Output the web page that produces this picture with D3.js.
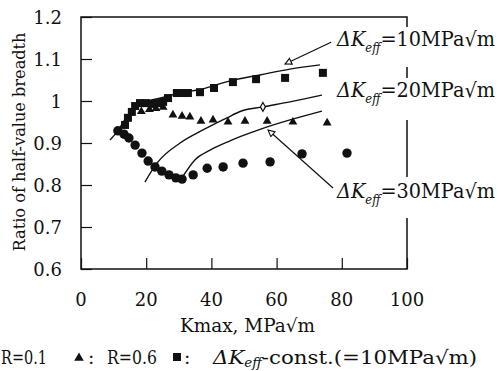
<!DOCTYPE html>
<html>
<head>
<meta charset="utf-8">
<script src="https://cdn.jsdelivr.net/npm/d3@7"></script>
<style>
  body { margin: 0; background: #fff; }
</style>
</head>
<body>
<div id="chart"></div>
<script>
// Kmax (MPa√m) vs ratio of half-value breadth
const circlesR01 = [
  [11.3, 0.929], [13.2, 0.921], [14.7, 0.912], [16.6, 0.895], [18.7, 0.876],
  [20.6, 0.857], [22.7, 0.843], [24.8, 0.833], [27.0, 0.824], [29.1, 0.817],
  [31.0, 0.814], [34.4, 0.824], [38.7, 0.840], [43.6, 0.843], [49.7, 0.852],
  [58.0, 0.855], [67.8, 0.874], [81.6, 0.876]
];
const trianglesR06 = [
  [18.5, 0.975], [21.0, 0.980], [23.0, 0.982], [25.2, 0.985], [28.2, 0.967],
  [31.0, 0.964], [33.4, 0.962], [36.8, 0.952], [40.5, 0.955], [45.1, 0.950],
  [50.3, 0.952], [57.1, 0.952], [65.0, 0.950], [75.5, 0.948]
];
const squaresConst = [
  [13.5, 0.943], [14.4, 0.960], [15.6, 0.974], [16.6, 0.988], [18.1, 0.995],
  [19.9, 0.995], [21.8, 0.993], [23.6, 0.995], [25.2, 0.998], [26.7, 1.007],
  [29.4, 1.019], [31.3, 1.019], [32.8, 1.019], [36.5, 1.021], [40.8, 1.031],
  [46.6, 1.045], [53.7, 1.052], [62.6, 1.055], [74.2, 1.067]
];
const curveDk10 = [
  [8.9, 0.907], [11.3, 0.929], [14.4, 0.967], [18.1, 0.993], [24.2, 1.007],
  [30.4, 1.019], [37.4, 1.029], [45.7, 1.048], [54.9, 1.062], [64.1, 1.076], [73.3, 1.086]
];
const curveDk20 = [
  [19.6, 0.807], [23.3, 0.852], [30.4, 0.900], [37.4, 0.931], [44.8, 0.960],
  [48.8, 0.975], [55.8, 0.986], [64.1, 0.998], [73.9, 1.014]
];
const curveDk30 = [
  [31.3, 0.821], [35.0, 0.860], [39.6, 0.883], [45.7, 0.905], [48.8, 0.915],
  [55.8, 0.935], [64.1, 0.955], [73.9, 0.976]
];
const xTickValues = [0, 20, 40, 60, 80, 100];
const yTickValues = [0.6, 0.7, 0.8, 0.9, 1.0, 1.1, 1.2];
const yTickLabels = ["0.6", "0.7", "0.8", "0.9", "1", "1.1", "1.2"];
const curveLabels = ["10", "20", "30"];
// arrows: [tailK, tailR, tipK, tipR]
const arrows = [[76.7, 1.140, 62.6, 1.088], [77.3, 0.793, 57.4, 0.931]];
const dk20Mark = [55.8, 0.986];

const W = 503, H = 371;
const x = d3.scaleLinear().domain([0, 100]).range([81, 407]);
const y = d3.scaleLinear().domain([0.6, 1.2]).range([269, 17]);

const svg = d3.select("#chart").append("svg")
  .attr("width", W).attr("height", H)
  .attr("viewBox", "0 0 " + W + " " + H)
  .attr("font-family", "'DejaVu Serif', 'Liberation Serif', serif")
  .attr("fill", "#111");

svg.append("defs").append("marker")
  .attr("id", "openArrow")
  .attr("viewBox", "0 0 10 10")
  .attr("refX", 9).attr("refY", 5)
  .attr("markerWidth", 8).attr("markerHeight", 8)
  .attr("markerUnits", "userSpaceOnUse")
  .attr("orient", "auto")
  .append("path")
  .attr("d", "M1,1 L9,5 L1,9 Z")
  .attr("fill", "#fff").attr("stroke", "#111").attr("stroke-width", 1.4);

// frame
svg.append("rect")
  .attr("x", x(0)).attr("y", y(1.2))
  .attr("width", x(100) - x(0)).attr("height", y(0.6) - y(1.2))
  .attr("fill", "none").attr("stroke", "#111").attr("stroke-width", 1.5);

// x ticks (inward)
const gx = svg.append("g").attr("transform", "translate(0," + y(0.6) + ")");
gx.call(d3.axisBottom(x).tickValues(d3.range(0, 101, 5)).tickSize(-5).tickFormat(""));
gx.call(d3.axisBottom(x).tickValues(xTickValues).tickSize(-11).tickFormat(""));
gx.selectAll(".domain").remove();
gx.selectAll("line").attr("stroke", "#111").attr("stroke-width", 1.2);

svg.append("g").selectAll("text").data(xTickValues).join("text")
  .attr("x", d => x(d)).attr("y", y(0.6) + 37)
  .attr("text-anchor", "middle").attr("font-size", 18)
  .text(d => d);

// y ticks (inward)
const gy = svg.append("g").attr("transform", "translate(" + x(0) + ",0)");
gy.call(d3.axisLeft(y).tickValues(d3.range(30, 61, 1).map(v => v / 50)).tickSize(-5).tickFormat(""));
gy.call(d3.axisLeft(y).tickValues(yTickValues).tickSize(-11).tickFormat(""));
gy.selectAll(".domain").remove();
gy.selectAll("line").attr("stroke", "#111").attr("stroke-width", 1.2);

svg.append("g").selectAll("text").data(yTickValues).join("text")
  .attr("x", 62).attr("y", d => y(d) + 7)
  .attr("text-anchor", "end").attr("font-size", 18)
  .text((d, i) => yTickLabels[i]);

// axis titles
svg.append("text")
  .attr("transform", "translate(25,142) rotate(-90)")
  .attr("text-anchor", "middle").attr("font-size", 17)
  .attr("textLength", 219).attr("lengthAdjust", "spacingAndGlyphs")
  .text("Ratio of half-value breadth");

svg.append("text")
  .attr("x", 180).attr("y", 332).attr("font-size", 18)
  .attr("textLength", 135).attr("lengthAdjust", "spacingAndGlyphs")
  .text("Kmax, MPa√m");

// curves
const line = d3.line().x(d => x(d[0])).y(d => y(d[1])).curve(d3.curveMonotoneX);
svg.append("g").selectAll("path").data([curveDk10, curveDk20, curveDk30]).join("path")
  .attr("d", line).attr("fill", "none").attr("stroke", "#111").attr("stroke-width", 1.4);

// markers
svg.append("g").selectAll("circle").data(circlesR01).join("circle")
  .attr("cx", d => x(d[0])).attr("cy", d => y(d[1])).attr("r", 4.7).attr("fill", "#111");

const tri = d3.symbol().type(d3.symbolTriangle).size(34);
svg.append("g").selectAll("path").data(trianglesR06).join("path")
  .attr("transform", d => "translate(" + x(d[0]) + "," + y(d[1]) + ")")
  .attr("d", tri).attr("fill", "#111");

svg.append("g").selectAll("rect").data(squaresConst).join("rect")
  .attr("x", d => x(d[0]) - 4).attr("y", d => y(d[1]) - 4)
  .attr("width", 8).attr("height", 8).attr("fill", "#111");

// label boxes hide the right frame behind the labels
const labelBoxes = [[27, 40], [78, 42], [177, 41]];
svg.append("g").selectAll("rect").data(labelBoxes).join("rect")
  .attr("x", 336).attr("y", d => d[0]).attr("width", 167).attr("height", d => d[1])
  .attr("fill", "#fff");

const labelBase = [46, 97, 198];
const lab = svg.append("g").selectAll("text").data(curveLabels).join("text")
  .attr("x", 337).attr("y", (d, i) => labelBase[i]).attr("font-size", 20)
  .attr("textLength", 158).attr("lengthAdjust", "spacingAndGlyphs");
lab.append("tspan").attr("font-style", "italic").text("ΔK");
lab.append("tspan").attr("font-style", "italic").attr("font-size", 12).attr("dy", 6).text("eff");
lab.append("tspan").attr("dy", -6).text(d => "=" + d + "MPa√m");

// arrows
svg.append("g").selectAll("line").data(arrows).join("line")
  .attr("x1", d => x(d[0])).attr("y1", d => y(d[1]))
  .attr("x2", d => x(d[2])).attr("y2", d => y(d[3]))
  .attr("stroke", "#111").attr("stroke-width", 1.2)
  .attr("marker-end", "url(#openArrow)");

svg.append("path")
  .attr("transform", "translate(" + x(dk20Mark[0]) + "," + y(dk20Mark[1]) + ")")
  .attr("d", d3.symbol().type(d3.symbolDiamond).size(22))
  .attr("fill", "#fff").attr("stroke", "#111").attr("stroke-width", 1.2);

// legend line
const legY = 364;
svg.append("text").attr("x", 1).attr("y", legY)
  .attr("font-size", 19).attr("textLength", 46).attr("lengthAdjust", "spacingAndGlyphs")
  .text("R=0.1");
svg.append("path").attr("transform", "translate(79," + (legY - 6) + ")")
  .attr("d", d3.symbol().type(d3.symbolTriangle).size(40)).attr("fill", "#111");
svg.append("text").attr("x", 88).attr("y", legY).attr("font-size", 19).text(":");
svg.append("text").attr("x", 107).attr("y", legY).attr("font-size", 19)
  .attr("textLength", 50).attr("lengthAdjust", "spacingAndGlyphs").text("R=0.6");
svg.append("rect").attr("x", 173).attr("y", legY - 11).attr("width", 8).attr("height", 8).attr("fill", "#111");
svg.append("text").attr("x", 184).attr("y", legY).attr("font-size", 19).text(":");
const leg3 = svg.append("text").attr("x", 213).attr("y", legY).attr("font-size", 19)
  .attr("textLength", 264).attr("lengthAdjust", "spacingAndGlyphs");
leg3.append("tspan").attr("font-style", "italic").text("ΔK");
leg3.append("tspan").attr("font-style", "italic").attr("font-size", 12).attr("dy", 3).text("eff");
leg3.append("tspan").attr("dy", -3).text("-const.(=10MPa√m)");
</script>
</body>
</html>
